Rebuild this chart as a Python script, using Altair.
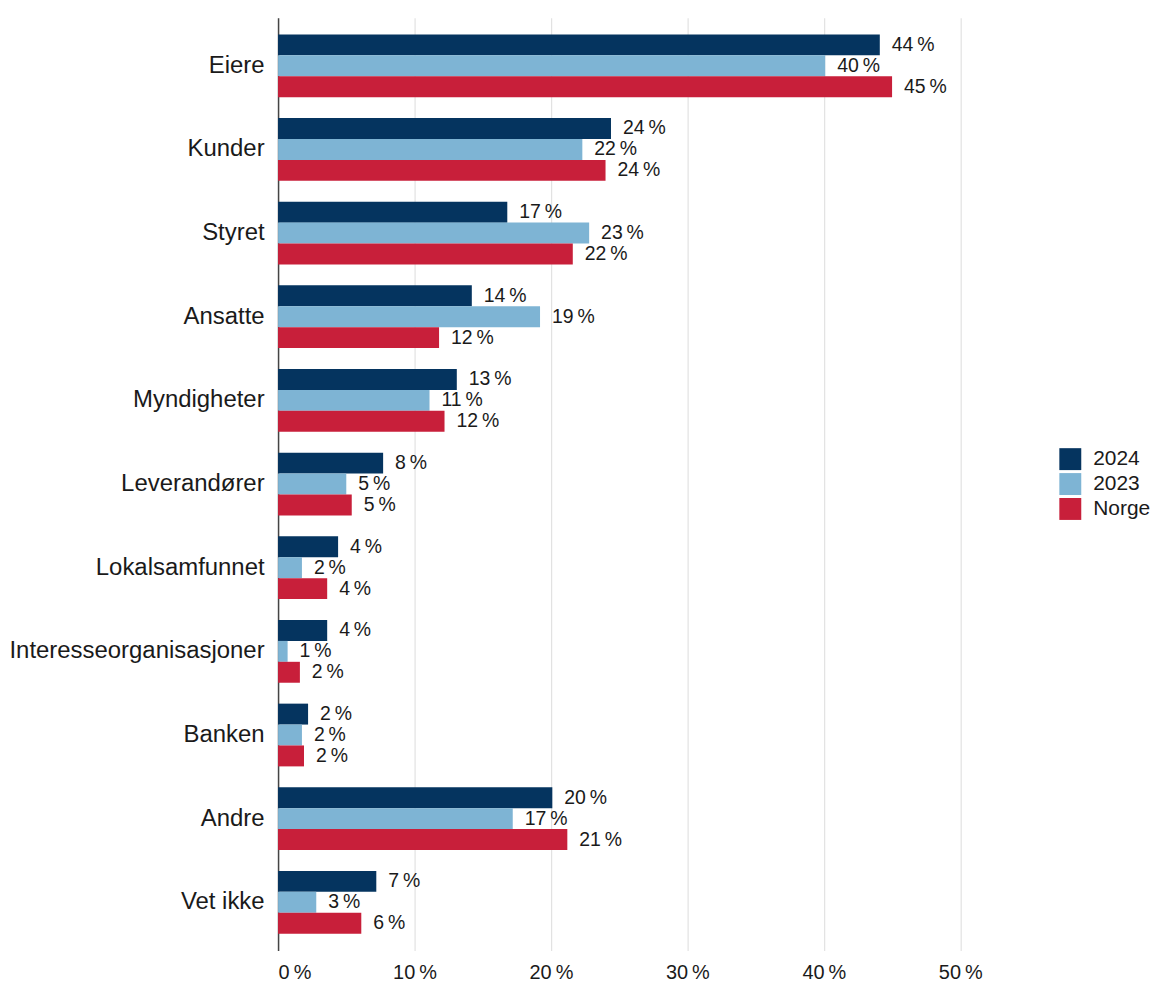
import altair as alt
import pandas as pd

categories = ["Eiere", "Kunder", "Styret", "Ansatte", "Myndigheter", "Leverandører",
              "Lokalsamfunnet", "Interesseorganisasjoner", "Banken", "Andre", "Vet ikke"]
series = ["2024", "2023", "Norge"]
v2024 = [44.1, 24.4, 16.8, 14.2, 13.1, 7.7, 4.4, 3.6, 2.2, 20.1, 7.2]
v2023 = [40.1, 22.3, 22.8, 19.2, 11.1, 5.0, 1.75, 0.7, 1.75, 17.2, 2.8]
vNorge = [45.0, 24.0, 21.6, 11.8, 12.2, 5.4, 3.6, 1.6, 1.9, 21.2, 6.1]
colors = ["#05345F", "#7EB4D4", "#C81F3A"]

rows = []
for s, vals in zip(series, [v2024, v2023, vNorge]):
    for c, v in zip(categories, vals):
        rows.append({"kategori": c, "serie": s, "verdi": v,
                     "etikett": f"{round(v)}\u202f%"})
df = pd.DataFrame(rows)

FONT = "Liberation Sans"

y_enc = alt.Y("kategori:N", sort=categories, title=None,
              scale=alt.Scale(paddingInner=0.25, paddingOuter=0.2),
              axis=alt.Axis(domain=True, domainColor="#444444", domainWidth=1.5,
                            ticks=False, labelFontSize=24, labelFont=FONT,
                            labelColor="#1a1a1a", labelPadding=14, labelLimit=500,
                            grid=False))
yoff = alt.YOffset("serie:N", sort=series, scale=alt.Scale(domain=series))
x_enc = alt.X("verdi:Q", title=None,
              scale=alt.Scale(domain=[0, 52], nice=False),
              axis=alt.Axis(values=[0, 10, 20, 30, 40, 50], domain=False, ticks=False,
                            labelExpr="datum.value + '\u202f%'", labelFontSize=20,
                            labelFont=FONT, labelColor="#1a1a1a", labelPadding=12,
                            grid=True, gridColor="#e2e2e2", gridWidth=1.2))

base = alt.Chart(df)
bars = base.mark_bar(size=21).encode(
    y=y_enc, yOffset=yoff, x=x_enc,
    color=alt.Color("serie:N", sort=series,
                    scale=alt.Scale(domain=series, range=colors),
                    legend=alt.Legend(title=None, orient="none", legendX=784, legendY=432,
                                      symbolType="square", symbolSize=484,
                                      symbolStrokeWidth=0, labelFontSize=21,
                                      labelFont=FONT, labelColor="#1a1a1a",
                                      rowPadding=3, labelOffset=12)),
)
text = base.mark_text(align="left", baseline="middle", dx=12, fontSize=19.5,
                      font=FONT, color="#1a1a1a").encode(
    y=alt.Y("kategori:N", sort=categories), yOffset=yoff,
    x=alt.X("verdi:Q"), text="etikett:N")

chart = (bars + text).properties(
    width=712, height=936,
    padding={"left": 0, "top": 8, "right": 5, "bottom": 5},
).configure_view(stroke=None)

chart.save("out.html", embed_options={"renderer": "svg", "actions": False})
